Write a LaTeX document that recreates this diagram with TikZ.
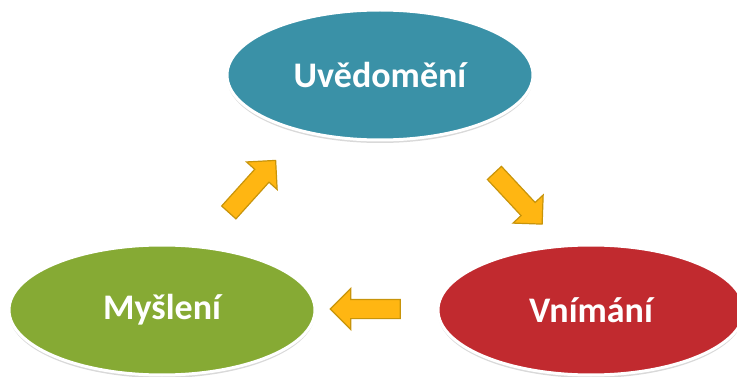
\documentclass[tikz,border=0pt]{standalone}
\usepackage{fontspec}
\setmainfont{Carlito}
\usetikzlibrary{shapes.geometric,shapes.arrows,shadows}
\definecolor{tealc}{RGB}{58,145,167}
\definecolor{greenc}{RGB}{134,170,52}
\definecolor{redc}{RGB}{193,42,47}
\definecolor{arrowfill}{RGB}{255,182,18}
\definecolor{arrowline}{RGB}{200,148,10}
\begin{document}
\begin{tikzpicture}[x=1pt, y=-1pt, font=\bfseries\fontsize{36}{40}\selectfont,
phase/.style={ellipse, draw=white, line width=3pt, text=white, minimum width=306pt, minimum height=130pt,
  drop shadow={shadow xshift=0pt, shadow yshift=-3pt, opacity=0.3}},
flow/.style={single arrow, draw=arrowline, fill=arrowfill, line width=1.2pt, inner sep=9pt,
  single arrow head extend=11pt, minimum height=70pt, anchor=center}]
\useasboundingbox (0,0) rectangle (737,377);
\node[phase, fill=tealc] (uved) at (380,75) {Uvědomění};
\node[phase, fill=redc] (vnim) at (591,310) {Vnímání};
\node[phase, fill=greenc] (mysl) at (162,310) {Myšlení};
\node[flow, rotate=-47] (a1) at (515,195) {};
\node[flow, rotate=180] (a2) at (370,309) {};
\node[flow, rotate=48] (a3) at (249,190) {};
\end{tikzpicture}
\end{document}
